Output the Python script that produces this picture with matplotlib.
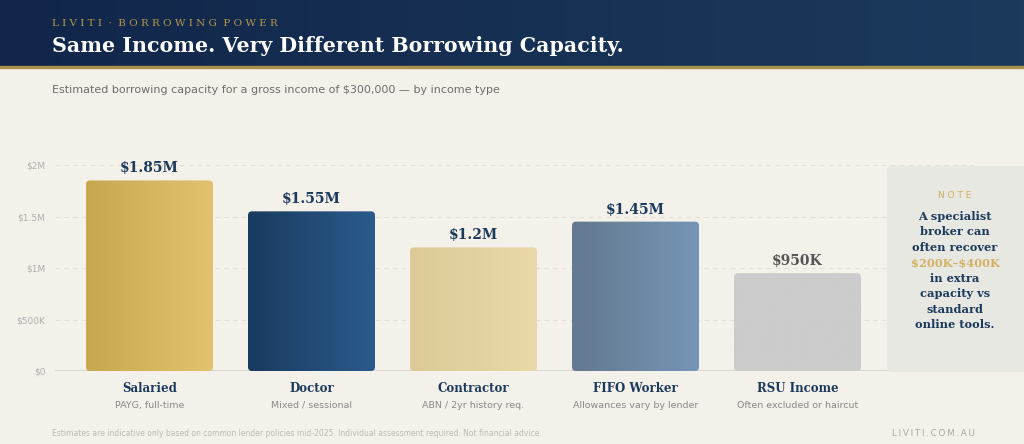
import numpy as np
import matplotlib
matplotlib.use("Agg")
import matplotlib.pyplot as plt
from matplotlib.patches import FancyBboxPatch, Rectangle
from matplotlib.colors import LinearSegmentedColormap

# ---- data ----
categories = ["Salaried", "Doctor", "Contractor", "FIFO Worker", "RSU Income"]
subtitles = ["PAYG, full-time", "Mixed / sessional", "ABN / 2yr history req.",
             "Allowances vary by lender", "Often excluded or haircut"]
values = [1.85, 1.55, 1.20, 1.45, 0.95]  # $M
value_labels = ["$1.85M", "$1.55M", "$1.2M", "$1.45M", "$950K"]
ytick_vals = [0, 0.5, 1.0, 1.5, 2.0]
ytick_labels = ["$0", "$500K", "$1M", "$1.5M", "$2M"]

grad_colors = [("#C8A84E", "#E2C26E"), ("#1A3A5E", "#2A5B8C"),
               ("#DCCA96", "#EAD8AA"), ("#647890", "#7596B4"), ("#CCCCCC", "#CCCCCC")]
label_colors = ["#1B3A5C"] * 4 + ["#555555"]

W, H = 1024, 444
BG = "#F4F1EA"
NAVY = "#1B3A5C"
GOLD = "#C9A84C"

plt.rcParams["text.parse_math"] = False

fig = plt.figure(figsize=(W / 100, H / 100), dpi=100)
fig.patch.set_facecolor(BG)

def fx(px): return px / W
def fy(py): return 1 - py / H

# header background
hdr = fig.add_axes([0, fy(66), 1, 66 / H], zorder=0)
hdr.axis("off")
g = np.linspace(0, 1, 256).reshape(1, -1)
hdr.imshow(g, aspect="auto", extent=[0, 1, 0, 1],
           cmap=LinearSegmentedColormap.from_list("h", ["#11264A", "#1B3A5C"]))
hdr.set_xlim(0, 1); hdr.set_ylim(0, 1)
fig.add_artist(Rectangle((0, fy(68.5)), 1, 2.5 / H, transform=fig.transFigure,
                         color="#A8904E", zorder=1))

# main axes
left, right, top, bottom = 55, 973, 165, 371
ax = fig.add_axes([fx(left), fy(bottom), (right - left) / W, (bottom - top) / H], zorder=2)
ax.set_facecolor("none")
step = 162.0
x0 = -(149.5 - left) / step
x1 = x0 + (right - left) / step
for s in ax.spines.values():
    s.set_visible(False)
ax.axhline(0, color="#D5D2CB", lw=1.2, zorder=1)
for yv in ytick_vals[1:]:
    ax.axhline(yv, color="#E3DFD6", lw=0.8, ls=(0, (4, 4)), zorder=0)
ax.set_yticks(ytick_vals)
ax.set_yticklabels(ytick_labels, color="#AFAFAF", fontsize=6.5)
ax.tick_params(axis="y", length=0, pad=7)
ax.set_xticks([])

bw = 127 / step
rx = 4 / step
ry = 4 / 103.0
for i, (v, (c0, c1)) in enumerate(zip(values, grad_colors)):
    cm = LinearSegmentedColormap.from_list(f"b{i}", [c0, c1])
    im = ax.imshow(g, aspect="auto", cmap=cm, extent=[i - bw / 2, i + bw / 2, 0, v], zorder=2)
    patch = FancyBboxPatch((i - bw / 2, 0), bw, v,
                           boxstyle=f"round,pad=0,rounding_size={rx}",
                           mutation_aspect=ry / rx, transform=ax.transData,
                           facecolor="none", edgecolor="none")
    ax.add_patch(patch)
    im.set_clip_path(patch)
    ax.annotate(value_labels[i], (i, v), xytext=(0, 5), textcoords="offset pixels",
                ha="center", va="bottom", fontsize=10, fontweight="bold",
                family="DejaVu Serif", color=label_colors[i], annotation_clip=False)
    ax.annotate(categories[i], (i, 0), xytext=(0, -17), textcoords="offset pixels",
                ha="center", va="center", fontsize=8.5, fontweight="bold",
                family="DejaVu Serif", color=NAVY, annotation_clip=False)
    ax.annotate(subtitles[i], (i, 0), xytext=(0, -34), textcoords="offset pixels",
                ha="center", va="center", fontsize=6.8, family="DejaVu Sans",
                color="#8A8A8A", annotation_clip=False)
ax.set_xlim(x0, x1)
ax.set_ylim(0, 2.0)

# overlay axes for text in pixel coordinates
ov = fig.add_axes([0, 0, 1, 1], zorder=3)
ov.set_xlim(0, W); ov.set_ylim(H, 0)
ov.axis("off")
ov.patch.set_alpha(0)

ov.text(52, 24, " ".join("LIVITI · BORROWING POWER").replace("   ", "  "),
        fontsize=7.5, family="DejaVu Serif", color="#B8984A", va="center", ha="left")
ov.text(52, 46, "Same Income. Very Different Borrowing Capacity.", fontsize=14.8,
        fontweight="bold", family="DejaVu Serif", color="white", va="center", ha="left")
ov.text(52, 90, "Estimated borrowing capacity for a gross income of $300,000 — by income type",
        fontsize=8, family="DejaVu Sans", color="#6E6E6E", va="center", ha="left")

# note box
ov.add_patch(FancyBboxPatch((887, 166), 150, 206, boxstyle="round,pad=0,rounding_size=5",
                            facecolor="#E8E8E3", edgecolor="none"))
cx = 955
ov.text(cx, 195, "N O T E", fontsize=6.5, color="#D0AE58", ha="center", va="center",
        family="DejaVu Sans")
note_lines = ["A specialist", "broker can", "often recover", "$200K–$400K",
              "in extra", "capacity vs", "standard", "online tools."]
for k, line in enumerate(note_lines):
    ov.text(cx, 216 + k * 15.5, line, fontsize=8.2, fontweight="bold",
            family="DejaVu Serif", color="#D4B062" if "$" in line else NAVY,
            ha="center", va="center")

ov.text(52, 433, "Estimates are indicative only based on common lender policies mid-2025. "
        "Individual assessment required. Not financial advice.",
        fontsize=5.5, color="#BDBAB3", ha="left", va="center", family="DejaVu Sans")
ov.text(975, 433, "\u2009".join("LIVITI.COM.AU"), fontsize=6.3, color="#ABA8A1",
        ha="right", va="center", family="DejaVu Sans")

fig.savefig("out.png", dpi=100, facecolor=BG)
